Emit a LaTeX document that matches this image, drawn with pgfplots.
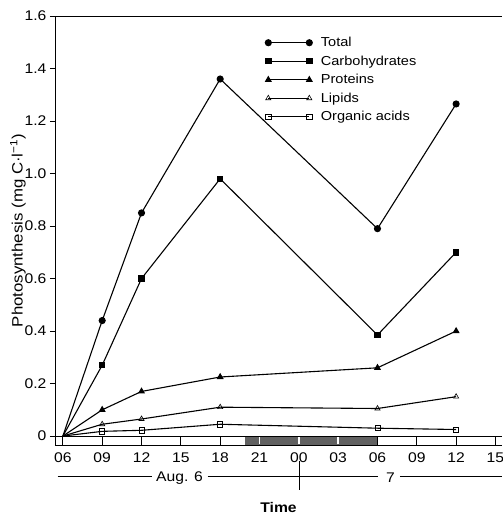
\documentclass[border=0pt]{standalone}
\usepackage{fontspec}
\setmainfont{Liberation Sans}[FakeStretch=1.12]
\usepackage{pgfplots}
\pgfplotsset{compat=1.18}
\begin{document}
\begin{tikzpicture}
\begin{axis}[
    scale only axis, width=447pt, height=429pt,
    xmin=-0.6, xmax=33.5, ymin=-0.034, ymax=1.6,
    axis x line*=bottom, axis y line*=left,
    axis line style={line width=0.9pt, -},
    xtick={0,3,...,33},
    xticklabels={06,09,12,15,18,21,00,03,06,09,12,15},
    major tick length=9pt, tick align=inside,
    x tick label style={yshift=-4.5pt},
    ytick=\empty,
    extra y ticks={0,0.2,0.4,0.6,0.8,1.0,1.2,1.4,1.6},
    extra y tick labels={0,0.2,0.4,0.6,0.8,1.0,1.2,1.4,1.6},
    extra y tick style={major tick length=5pt, tick align=outside},
    tick style={black, line width=0.8pt},
    ticklabel style={font=\fontsize{14}{16}\selectfont},
    clip=false,
    xlabel={\bfseries Time},
    ylabel={Photosynthesis (mg C\symbol{"00B7}l\textsuperscript{\symbol{"2212}1})},
    every axis x label/.style={at={(axis description cs:0.5,0)}, anchor=center, yshift=-62pt, font=\fontsize{14}{16}\selectfont},
    every axis y label/.style={at={(axis description cs:0,0.5)}, xshift=-37pt, rotate=90, anchor=center, font=\fontsize{15}{17}\selectfont},
    legend style={at={(axis cs:15.2,1.535)}, anchor=north west, draw=none, fill=none,
        font=\fontsize{13}{15}\selectfont, row sep=3.6pt},
    legend cell align=left,
    legend image code/.code={
        \draw[#1, mark indices={1,2}] plot coordinates {(0pt,0pt) (41pt,0pt)};
        \path (50pt,0pt);
    },
    every axis plot/.append style={black, line width=1.1pt},
]
% night period
\fill[black!62] (axis cs:13.9,-0.034) rectangle (axis cs:24,0);
\draw[white, line width=1.6pt] (axis cs:15,-0.032) -- (axis cs:15,-0.002);
\draw[white, line width=1.6pt] (axis cs:18,-0.032) -- (axis cs:18,-0.002);
\draw[white, line width=1.6pt] (axis cs:21,-0.032) -- (axis cs:21,-0.002);
\draw[line width=0.9pt] (axis cs:-0.6,0) -- (axis cs:33.5,0);
\draw[line width=0.9pt] (axis cs:-0.6,1.6) -- (axis cs:33.5,1.6);

\addplot[mark=*, mark size=3pt, mark indices={2,3,4,5,6}, mark options={solid, fill=black}]
    coordinates {(0,0) (3,0.44) (6,0.85) (12,1.36) (24,0.79) (30,1.265)};
\addlegendentry{Total}
\addplot[mark=square*, mark size=2.7pt, mark indices={2,3,4,5,6}, mark options={solid, fill=black}]
    coordinates {(0,0) (3,0.27) (6,0.60) (12,0.98) (24,0.385) (30,0.70)};
\addlegendentry{Carbohydrates}
\addplot[mark=triangle*, mark size=3pt, mark indices={2,3,4,5,6}, mark options={solid, fill=black}]
    coordinates {(0,0) (3,0.10) (6,0.17) (12,0.225) (24,0.26) (30,0.40)};
\addlegendentry{Proteins}
\addplot[mark=triangle, mark size=3pt, mark indices={2,3,4,5,6}, mark options={solid, fill=white, line width=0.6pt}]
    coordinates {(0,0) (3,0.045) (6,0.065) (12,0.11) (24,0.105) (30,0.15)};
\addlegendentry{Lipids}
\addplot[mark=square, mark size=2.6pt, mark indices={2,3,4,5,6}, mark options={solid, fill=white, line width=0.6pt}]
    coordinates {(0,0) (3,0.018) (6,0.022) (12,0.045) (24,0.03) (30,0.025)};
\addlegendentry{Organic acids}

% date bar under the time axis
\draw[line width=0.6pt] ([yshift=-31pt]axis cs:-0.4,-0.034) -- ([yshift=-31pt]axis cs:6.8,-0.034);
\node[font=\fontsize{14}{16}\selectfont] at ([yshift=-33pt]axis cs:8.9,-0.034) {Aug. 6};
\draw[line width=0.6pt] ([yshift=-31pt]axis cs:11.05,-0.034) -- ([yshift=-31pt]axis cs:24.05,-0.034);
\node[font=\fontsize{14}{16}\selectfont] at ([yshift=-33pt]axis cs:25.0,-0.034) {7};
\draw[line width=0.6pt] ([yshift=-31pt]axis cs:25.7,-0.034) -- ([yshift=-31pt]axis cs:33.5,-0.034);
\draw[line width=0.6pt] ([yshift=-16pt]axis cs:18,-0.034) -- ([yshift=-45pt]axis cs:18,-0.034);

\coordinate (BL) at (rel axis cs:0,0);
\coordinate (TR) at (rel axis cs:1,1);
\end{axis}
\pgfresetboundingbox
\path[use as bounding box] ([xshift=-55pt,yshift=-71pt]BL) rectangle ([yshift=16pt]TR);
\end{tikzpicture}
\end{document}
